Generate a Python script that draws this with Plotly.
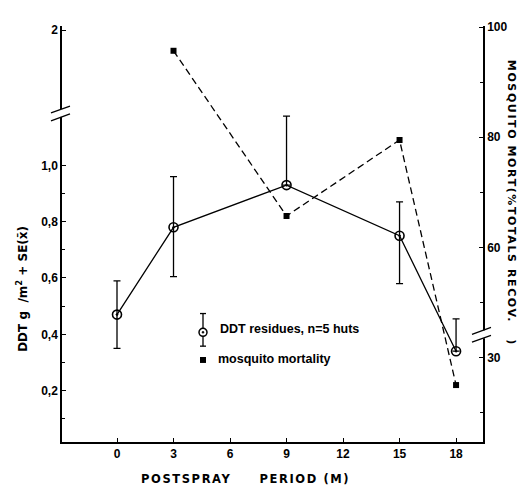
import plotly.graph_objects as go

# ---------------- data ----------------
months = [0, 3, 9, 15, 18]
ddt_residue = [0.47, 0.78, 0.93, 0.75, 0.34]          # g/m2
ddt_se_up = [0.12, 0.18, 0.245, 0.12, 0.115]
ddt_se_down = [0.12, 0.175, 0.0, 0.17, 0.0]

mort_months = [3, 9, 15, 18]
mosquito_mortality = [95.7, 65.7, 79.5, 25.0]          # % of totals recovered

x_ticks = [0, 3, 6, 9, 12, 15, 18]
left_tick_vals = [0.2, 0.4, 0.6, 0.8, 1.0]
left_tick_text = ["0,2", "0,4", "0,6", "0,8", "1,0"]
left_minor = [0.1, 0.3, 0.5, 0.7, 0.9]
right_upper_ticks = [60, 80, 100]
right_lower_ticks = [30]
right_minor_upper = [50, 70, 90]
right_minor_lower = [20]

# ---------------- broken-axis scales ----------------
LEFT_TOP_POS = 1.48          # where the "2" of the upper left segment sits
RIGHT_BREAK = 40             # values below this lie on the lower right segment
RIGHT_GAP = 10               # amount of the right scale hidden by the break


def right_scale(v):
    return v + RIGHT_GAP if v < RIGHT_BREAK else v


# ---------------- geometry (page body has an 8px margin) ----------------
OFF = 8
W, H = 525 - OFF, 487 - OFF
L, R, T, B = 62 - OFF, 42, 21 - OFF, 45
PW, PH = W - L - R, H - T - B


def px(x):
    """page pixel x -> paper coordinate"""
    return (x - OFF - L) / PW


def py(y):
    """page pixel y -> paper coordinate"""
    return (H - B - (y - OFF)) / PH


BOLD = "Liberation Sans"
fig = go.Figure()

fig.add_trace(go.Scatter(
    x=months, y=ddt_residue, mode="lines+markers",
    line=dict(color="black", width=1.3),
    marker=dict(symbol="circle-open-dot", size=9, color="black",
                line=dict(color="black", width=1.6)),
    error_y=dict(type="data", array=ddt_se_up, arrayminus=ddt_se_down,
                 symmetric=False, color="black", thickness=1.3, width=3.5),
    showlegend=False, yaxis="y", cliponaxis=False,
))

fig.add_trace(go.Scatter(
    x=mort_months, y=[right_scale(v) for v in mosquito_mortality],
    mode="lines+markers",
    line=dict(color="black", width=1.3, dash="7px,4px"),
    marker=dict(symbol="square", size=6, color="black"),
    showlegend=False, yaxis="y2", cliponaxis=False,
))

tickfont = dict(family=BOLD, size=12, color="black")

fig.update_layout(
    width=W, height=H,
    margin=dict(l=L, r=R, t=T, b=B),
    paper_bgcolor="white", plot_bgcolor="white",
    font=dict(family=BOLD, color="black"),
    xaxis=dict(
        range=[-2.92, 19.43], tickvals=x_ticks,
        ticktext=[f"<b>{v}</b>" for v in x_ticks],
        ticks="inside", ticklen=4, tickwidth=1.3, tickcolor="black",
        showline=True, linecolor="black", linewidth=1.5,
        showgrid=False, zeroline=False, tickfont=tickfont,
    ),
    yaxis=dict(
        range=[0.0175, 1.495],
        tickvals=left_tick_vals + [LEFT_TOP_POS],
        ticktext=[f"<b>{t}</b>" for t in left_tick_text] + ["<b>2</b>"],
        ticks="inside", ticklen=4, tickwidth=1.3, tickcolor="black",
        minor=dict(tickvals=left_minor, ticks="inside", ticklen=3,
                   tickcolor="black", tickwidth=1),
        showline=True, linecolor="black", linewidth=1.5,
        showgrid=False, zeroline=False, tickfont=tickfont,
    ),
    yaxis2=dict(
        range=[24.66, 100.2], overlaying="y", side="right", anchor="x",
        tickvals=[right_scale(v) for v in right_lower_ticks + right_upper_ticks],
        ticktext=[f"<b>{v}</b>" for v in right_lower_ticks + right_upper_ticks],
        ticks="inside", ticklen=4, tickwidth=1.3, tickcolor="black",
        minor=dict(tickvals=[right_scale(v) for v in right_minor_lower + right_minor_upper],
                   ticks="inside", ticklen=3, tickcolor="black", tickwidth=1),
        showline=True, linecolor="black", linewidth=1.5,
        showgrid=False, zeroline=False, tickfont=tickfont,
    ),
)

shapes = []
# axis breaks: white gap + two slanted strokes
for ax_x, y0 in [(62, 109), (483, 333)]:
    shapes.append(dict(type="rect", xref="paper", yref="paper",
                       x0=px(ax_x - 2), x1=px(ax_x + 2), y0=py(y0 + 4), y1=py(y0 - 4),
                       fillcolor="white", line=dict(width=0), layer="above"))
    for dy in (-4, 4):
        shapes.append(dict(type="line", xref="paper", yref="paper",
                           x0=px(ax_x - 11), y0=py(y0 + dy + 4),
                           x1=px(ax_x + 8), y1=py(y0 + dy - 3),
                           line=dict(color="black", width=1.3), layer="above"))

# legend glyphs
lx = 203
shapes.append(dict(type="line", xref="paper", yref="paper", x0=px(lx), x1=px(lx),
                   y0=py(312), y1=py(345), line=dict(color="black", width=1.3)))
for yy in (312, 345):
    shapes.append(dict(type="line", xref="paper", yref="paper", x0=px(lx - 3), x1=px(lx + 3),
                       y0=py(yy), y1=py(yy), line=dict(color="black", width=1.3)))
shapes.append(dict(type="circle", xref="paper", yref="paper",
                   x0=px(lx - 4), x1=px(lx + 4), y0=py(335), y1=py(327),
                   fillcolor="white", line=dict(color="black", width=1.5)))
shapes.append(dict(type="circle", xref="paper", yref="paper",
                   x0=px(lx - 1), x1=px(lx + 1), y0=py(332), y1=py(330),
                   fillcolor="black", line=dict(color="black", width=0.5)))
shapes.append(dict(type="rect", xref="paper", yref="paper",
                   x0=px(lx - 3), x1=px(lx + 3), y0=py(362), y1=py(356),
                   fillcolor="black", line=dict(width=0)))
fig.update_layout(shapes=shapes)

NB = "\u00a0"
SP = '<span style="letter-spacing:1.6px">'
annotations = [
    dict(text="<b>DDT residues, n=5 huts</b>", x=px(218), y=py(328),
         xanchor="left", yanchor="middle", font=dict(size=12.5)),
    dict(text="<b>mosquito mortality</b>", x=px(216), y=py(358),
         xanchor="left", yanchor="middle", font=dict(size=12.5)),
    dict(text=SP + "<b>POSTSPRAY" + NB * 5 + "PERIOD (M)</b></span>", x=px(245), y=py(479),
         xanchor="center", yanchor="middle",
         font=dict(family="DejaVu Sans", size=11.5)),
    dict(text="<b>DDT g" + NB * 2 + "/m<sup>2</sup> + SE(x\u0304)</b>", x=px(22), y=py(287),
         textangle=-90, xanchor="center", yanchor="middle",
         font=dict(family="DejaVu Sans", size=12)),
    dict(text=SP + "<b>MOSQUITO" + NB + "MORT(%TOTALS" + NB + "RECOV." + NB * 3 + ")</b></span>",
         x=px(511), y=py(200), textangle=90, xanchor="center", yanchor="middle",
         font=dict(family="DejaVu Sans", size=11)),
]
for a in annotations:
    a.update(xref="paper", yref="paper", showarrow=False)
fig.update_layout(annotations=annotations)

fig.write_html("out.html")
